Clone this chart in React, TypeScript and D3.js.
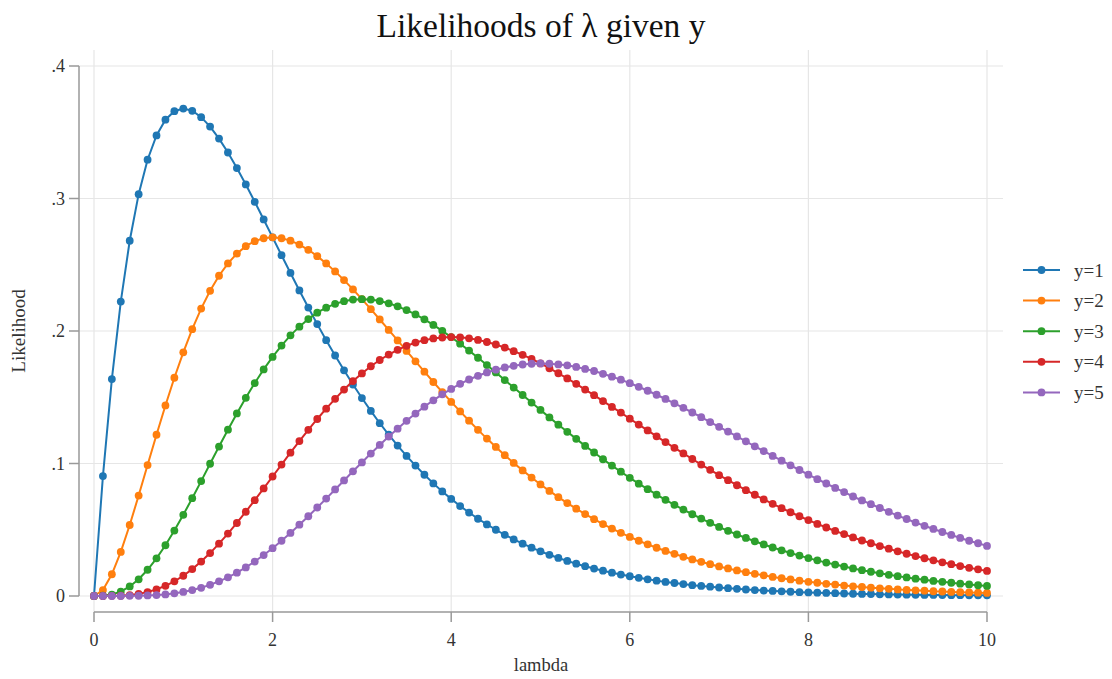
import React, { useEffect, useRef } from 'react';
import * as d3 from 'd3';

// lambda grid (x values)
const lambdas = [
  0, 0.1, 0.2, 0.3, 0.4, 0.5, 0.6, 0.7, 0.8, 0.9,
  1, 1.1, 1.2, 1.3, 1.4, 1.5, 1.6, 1.7, 1.8, 1.9,
  2, 2.1, 2.2, 2.3, 2.4, 2.5, 2.6, 2.7, 2.8, 2.9,
  3, 3.1, 3.2, 3.3, 3.4, 3.5, 3.6, 3.7, 3.8, 3.9,
  4, 4.1, 4.2, 4.3, 4.4, 4.5, 4.6, 4.7, 4.8, 4.9,
  5, 5.1, 5.2, 5.3, 5.4, 5.5, 5.6, 5.7, 5.8, 5.9,
  6, 6.1, 6.2, 6.3, 6.4, 6.5, 6.6, 6.7, 6.8, 6.9,
  7, 7.1, 7.2, 7.3, 7.4, 7.5, 7.6, 7.7, 7.8, 7.9,
  8, 8.1, 8.2, 8.3, 8.4, 8.5, 8.6, 8.7, 8.8, 8.9,
  9, 9.1, 9.2, 9.3, 9.4, 9.5, 9.6, 9.7, 9.8, 9.9,
  10,
];

const y1 = [
  0, 0.0905, 0.1637, 0.2222, 0.2681, 0.3033, 0.3293, 0.3476, 0.3595, 0.3659,
  0.3679, 0.3662, 0.3614, 0.3543, 0.3452, 0.3347, 0.3230, 0.3106, 0.2975, 0.2842,
  0.2707, 0.2572, 0.2438, 0.2306, 0.2177, 0.2052, 0.1931, 0.1815, 0.1703, 0.1596,
  0.1494, 0.1397, 0.1304, 0.1217, 0.1135, 0.1057, 0.0984, 0.0915, 0.0850, 0.0789,
  0.0733, 0.0679, 0.0630, 0.0583, 0.0540, 0.0500, 0.0462, 0.0427, 0.0395, 0.0365,
  0.0337, 0.0311, 0.0287, 0.0265, 0.0244, 0.0225, 0.0207, 0.0191, 0.0176, 0.0162,
  0.0149, 0.0137, 0.0126, 0.0116, 0.0106, 0.0098, 0.0090, 0.0082, 0.0076, 0.0070,
  0.0064, 0.0059, 0.0054, 0.0049, 0.0045, 0.0041, 0.0038, 0.0035, 0.0032, 0.0029,
  0.0027, 0.0025, 0.0023, 0.0021, 0.0019, 0.0017, 0.0016, 0.0015, 0.0013, 0.0012,
  0.0011, 0.0010, 0.0009, 0.0008, 0.0008, 0.0007, 0.0006, 0.0006, 0.0005, 0.0005,
  0.0005,
];

const y2 = [
  0, 0.0045, 0.0164, 0.0333, 0.0536, 0.0758, 0.0988, 0.1217, 0.1438, 0.1647,
  0.1839, 0.2014, 0.2169, 0.2303, 0.2417, 0.2510, 0.2584, 0.2640, 0.2678, 0.2700,
  0.2707, 0.2700, 0.2682, 0.2652, 0.2613, 0.2565, 0.2510, 0.2450, 0.2384, 0.2314,
  0.2240, 0.2165, 0.2087, 0.2008, 0.1929, 0.1850, 0.1771, 0.1693, 0.1615, 0.1539,
  0.1465, 0.1393, 0.1323, 0.1254, 0.1188, 0.1125, 0.1063, 0.1004, 0.0948, 0.0894,
  0.0842, 0.0793, 0.0746, 0.0701, 0.0659, 0.0618, 0.0580, 0.0543, 0.0509, 0.0477,
  0.0446, 0.0417, 0.0390, 0.0364, 0.0340, 0.0318, 0.0296, 0.0276, 0.0258, 0.0240,
  0.0223, 0.0208, 0.0193, 0.0180, 0.0167, 0.0156, 0.0144, 0.0134, 0.0125, 0.0116,
  0.0107, 0.0100, 0.0092, 0.0086, 0.0079, 0.0073, 0.0068, 0.0063, 0.0058, 0.0054,
  0.0050, 0.0046, 0.0043, 0.0040, 0.0036, 0.0034, 0.0031, 0.0029, 0.0027, 0.0025,
  0.0023,
];

const y3 = [
  0, 0.0002, 0.0011, 0.0033, 0.0072, 0.0126, 0.0198, 0.0284, 0.0383, 0.0494,
  0.0613, 0.0738, 0.0867, 0.0998, 0.1128, 0.1255, 0.1378, 0.1496, 0.1607, 0.1710,
  0.1804, 0.1890, 0.1967, 0.2033, 0.2090, 0.2138, 0.2176, 0.2205, 0.2225, 0.2237,
  0.2240, 0.2237, 0.2226, 0.2209, 0.2186, 0.2158, 0.2125, 0.2088, 0.2046, 0.2001,
  0.1954, 0.1904, 0.1852, 0.1798, 0.1743, 0.1687, 0.1630, 0.1573, 0.1517, 0.1460,
  0.1404, 0.1348, 0.1293, 0.1239, 0.1186, 0.1133, 0.1083, 0.1032, 0.0984, 0.0938,
  0.0892, 0.0848, 0.0806, 0.0765, 0.0726, 0.0688, 0.0652, 0.0617, 0.0584, 0.0552,
  0.0521, 0.0492, 0.0464, 0.0438, 0.0413, 0.0389, 0.0366, 0.0345, 0.0324, 0.0305,
  0.0286, 0.0269, 0.0252, 0.0237, 0.0222, 0.0208, 0.0195, 0.0183, 0.0171, 0.0160,
  0.0150, 0.0140, 0.0131, 0.0123, 0.0114, 0.0107, 0.0100, 0.0093, 0.0087, 0.0081,
  0.0076,
];

const y4 = [
  0, 0.0000, 0.0001, 0.0002, 0.0007, 0.0016, 0.0030, 0.0050, 0.0077, 0.0111,
  0.0153, 0.0203, 0.0260, 0.0324, 0.0395, 0.0471, 0.0551, 0.0636, 0.0723, 0.0812,
  0.0902, 0.0992, 0.1082, 0.1169, 0.1254, 0.1336, 0.1414, 0.1488, 0.1558, 0.1622,
  0.1680, 0.1734, 0.1781, 0.1822, 0.1858, 0.1888, 0.1913, 0.1931, 0.1944, 0.1951,
  0.1954, 0.1952, 0.1945, 0.1933, 0.1917, 0.1898, 0.1875, 0.1848, 0.1820, 0.1789,
  0.1755, 0.1719, 0.1681, 0.1642, 0.1601, 0.1558, 0.1516, 0.1471, 0.1427, 0.1384,
  0.1338, 0.1294, 0.1250, 0.1205, 0.1162, 0.1118, 0.1076, 0.1034, 0.0992, 0.0952,
  0.0912, 0.0874, 0.0836, 0.0799, 0.0764, 0.0729, 0.0696, 0.0663, 0.0632, 0.0602,
  0.0573, 0.0544, 0.0517, 0.0491, 0.0467, 0.0442, 0.0419, 0.0398, 0.0377, 0.0357,
  0.0337, 0.0319, 0.0301, 0.0285, 0.0269, 0.0254, 0.0240, 0.0226, 0.0213, 0.0201,
  0.0189,
];

const y5 = [
  0, 0.0000, 0.0000, 0.0000, 0.0001, 0.0002, 0.0004, 0.0007, 0.0012, 0.0020,
  0.0031, 0.0045, 0.0062, 0.0084, 0.0111, 0.0141, 0.0176, 0.0216, 0.0260, 0.0309,
  0.0361, 0.0417, 0.0476, 0.0538, 0.0602, 0.0668, 0.0735, 0.0804, 0.0872, 0.0941,
  0.1008, 0.1075, 0.1140, 0.1203, 0.1263, 0.1322, 0.1377, 0.1429, 0.1477, 0.1522,
  0.1563, 0.1601, 0.1634, 0.1662, 0.1687, 0.1708, 0.1725, 0.1737, 0.1747, 0.1753,
  0.1755, 0.1753, 0.1748, 0.1741, 0.1729, 0.1714, 0.1698, 0.1677, 0.1655, 0.1633,
  0.1606, 0.1579, 0.1549, 0.1519, 0.1487, 0.1454, 0.1420, 0.1385, 0.1350, 0.1313,
  0.1277, 0.1241, 0.1204, 0.1167, 0.1130, 0.1094, 0.1057, 0.1021, 0.0986, 0.0951,
  0.0916, 0.0882, 0.0849, 0.0816, 0.0784, 0.0751, 0.0721, 0.0693, 0.0664, 0.0635,
  0.0607, 0.0581, 0.0554, 0.0530, 0.0506, 0.0483, 0.0461, 0.0438, 0.0417, 0.0398,
  0.0378,
];

const seriesNames = ['y=1', 'y=2', 'y=3', 'y=4', 'y=5'];
const seriesValues = [y1, y2, y3, y4, y5];
const seriesColors = ['#1f77b4', '#ff7f0e', '#2ca02c', '#d62728', '#9467bd'];

const xTicks = [0, 2, 4, 6, 8, 10];
const yTicks = [0, 0.1, 0.2, 0.3, 0.4];
const yTickLabels = ['0', '.1', '.2', '.3', '.4'];

const W = 1112;
const H = 679;
const FONT = '"Liberation Serif", "DejaVu Serif", serif';

export default function App() {
  const svgRef = useRef<SVGSVGElement>(null);

  useEffect(() => {
    if (!svgRef.current) return;
    const svg = d3.select(svgRef.current);
    svg.selectAll('*').remove();

    const x = d3.scaleLinear().domain([0, 10]).range([94, 987]);
    const y = d3.scaleLinear().domain([0, 0.4]).range([596, 66]);

    // plot region (gridlines extend a bit past the data range)
    const plotLeft = 79, plotRight = 1003, plotTop = 50, plotBottom = 612;

    svg.append('rect').attr('width', W).attr('height', H).attr('fill', '#ffffff');

    // gridlines
    const grid = svg.append('g');
    grid.selectAll('line.gy')
      .data(yTicks)
      .enter().append('line')
      .attr('x1', plotLeft).attr('x2', plotRight)
      .attr('y1', (d) => y(d)).attr('y2', (d) => y(d))
      .attr('stroke', '#e6e6e6').attr('stroke-width', 1.2);
    grid.selectAll('line.gx')
      .data(xTicks)
      .enter().append('line')
      .attr('x1', (d) => x(d)).attr('x2', (d) => x(d))
      .attr('y1', plotTop).attr('y2', plotBottom)
      .attr('stroke', '#e6e6e6').attr('stroke-width', 1.2);

    // y axis
    const yAxis = svg.append('g');
    yAxis.append('line')
      .attr('x1', plotLeft).attr('x2', plotLeft)
      .attr('y1', y(0.4)).attr('y2', y(0))
      .attr('stroke', '#999999').attr('stroke-width', 1.5);
    yAxis.selectAll('line.t')
      .data(yTicks)
      .enter().append('line')
      .attr('x1', plotLeft - 10).attr('x2', plotLeft)
      .attr('y1', (d) => y(d)).attr('y2', (d) => y(d))
      .attr('stroke', '#999999').attr('stroke-width', 1.5);
    yAxis.selectAll('text')
      .data(yTicks)
      .enter().append('text')
      .attr('x', plotLeft - 14)
      .attr('y', (d) => y(d))
      .attr('dy', '0.35em')
      .attr('text-anchor', 'end')
      .attr('font-family', FONT)
      .attr('font-size', 18)
      .attr('fill', '#333333')
      .text((_, i) => yTickLabels[i]);

    // x axis
    const xAxis = svg.append('g');
    xAxis.append('line')
      .attr('x1', x(0)).attr('x2', x(10))
      .attr('y1', plotBottom).attr('y2', plotBottom)
      .attr('stroke', '#999999').attr('stroke-width', 1.5);
    xAxis.selectAll('line.t')
      .data(xTicks)
      .enter().append('line')
      .attr('x1', (d) => x(d)).attr('x2', (d) => x(d))
      .attr('y1', plotBottom).attr('y2', plotBottom + 10)
      .attr('stroke', '#999999').attr('stroke-width', 1.5);
    xAxis.selectAll('text')
      .data(xTicks)
      .enter().append('text')
      .attr('x', (d) => x(d))
      .attr('y', 646)
      .attr('text-anchor', 'middle')
      .attr('font-family', FONT)
      .attr('font-size', 18)
      .attr('fill', '#333333')
      .text((d) => String(d));

    // axis titles
    svg.append('text')
      .attr('x', 541).attr('y', 671)
      .attr('text-anchor', 'middle')
      .attr('font-family', FONT)
      .attr('font-size', 18.5)
      .attr('fill', '#333333')
      .text('lambda');
    svg.append('text')
      .attr('transform', 'translate(25,331) rotate(-90)')
      .attr('text-anchor', 'middle')
      .attr('font-family', FONT)
      .attr('font-size', 19)
      .attr('fill', '#333333')
      .text('Likelihood');

    // title
    svg.append('text')
      .attr('x', 541).attr('y', 37)
      .attr('text-anchor', 'middle')
      .attr('font-family', FONT)
      .attr('font-size', 33.5)
      .attr('fill', '#111111')
      .text('Likelihoods of λ given y');

    // series
    const line = d3.line<number>()
      .x((_, i) => x(lambdas[i]))
      .y((d) => y(d));

    seriesValues.forEach((vals, s) => {
      const g = svg.append('g');
      g.append('path')
        .datum(vals)
        .attr('d', line)
        .attr('fill', 'none')
        .attr('stroke', seriesColors[s])
        .attr('stroke-width', 2);
      g.selectAll('circle')
        .data(vals)
        .enter().append('circle')
        .attr('cx', (_, i) => x(lambdas[i]))
        .attr('cy', (d) => y(d))
        .attr('r', 3.9)
        .attr('fill', seriesColors[s]);
    });

    // legend
    const legend = svg.append('g').attr('transform', 'translate(1023,270)');
    const rows = legend.selectAll('g')
      .data(seriesNames)
      .enter().append('g')
      .attr('transform', (_, i) => `translate(0,${i * 30.6})`);
    rows.append('line')
      .attr('x1', 0).attr('x2', 37)
      .attr('stroke', (_, i) => seriesColors[i])
      .attr('stroke-width', 2);
    rows.append('circle')
      .attr('cx', 18.5).attr('r', 3.9)
      .attr('fill', (_, i) => seriesColors[i]);
    rows.append('text')
      .attr('x', 51)
      .attr('dy', '0.35em')
      .attr('font-family', FONT)
      .attr('font-size', 19)
      .attr('fill', '#333333')
      .text((d) => d);
  }, []);

  return (
    <svg
      ref={svgRef}
      width={W}
      height={H}
      viewBox={`0 0 ${W} ${H}`}
      style={{ position: 'absolute', left: 0, top: 0, display: 'block' }}
    />
  );
}
